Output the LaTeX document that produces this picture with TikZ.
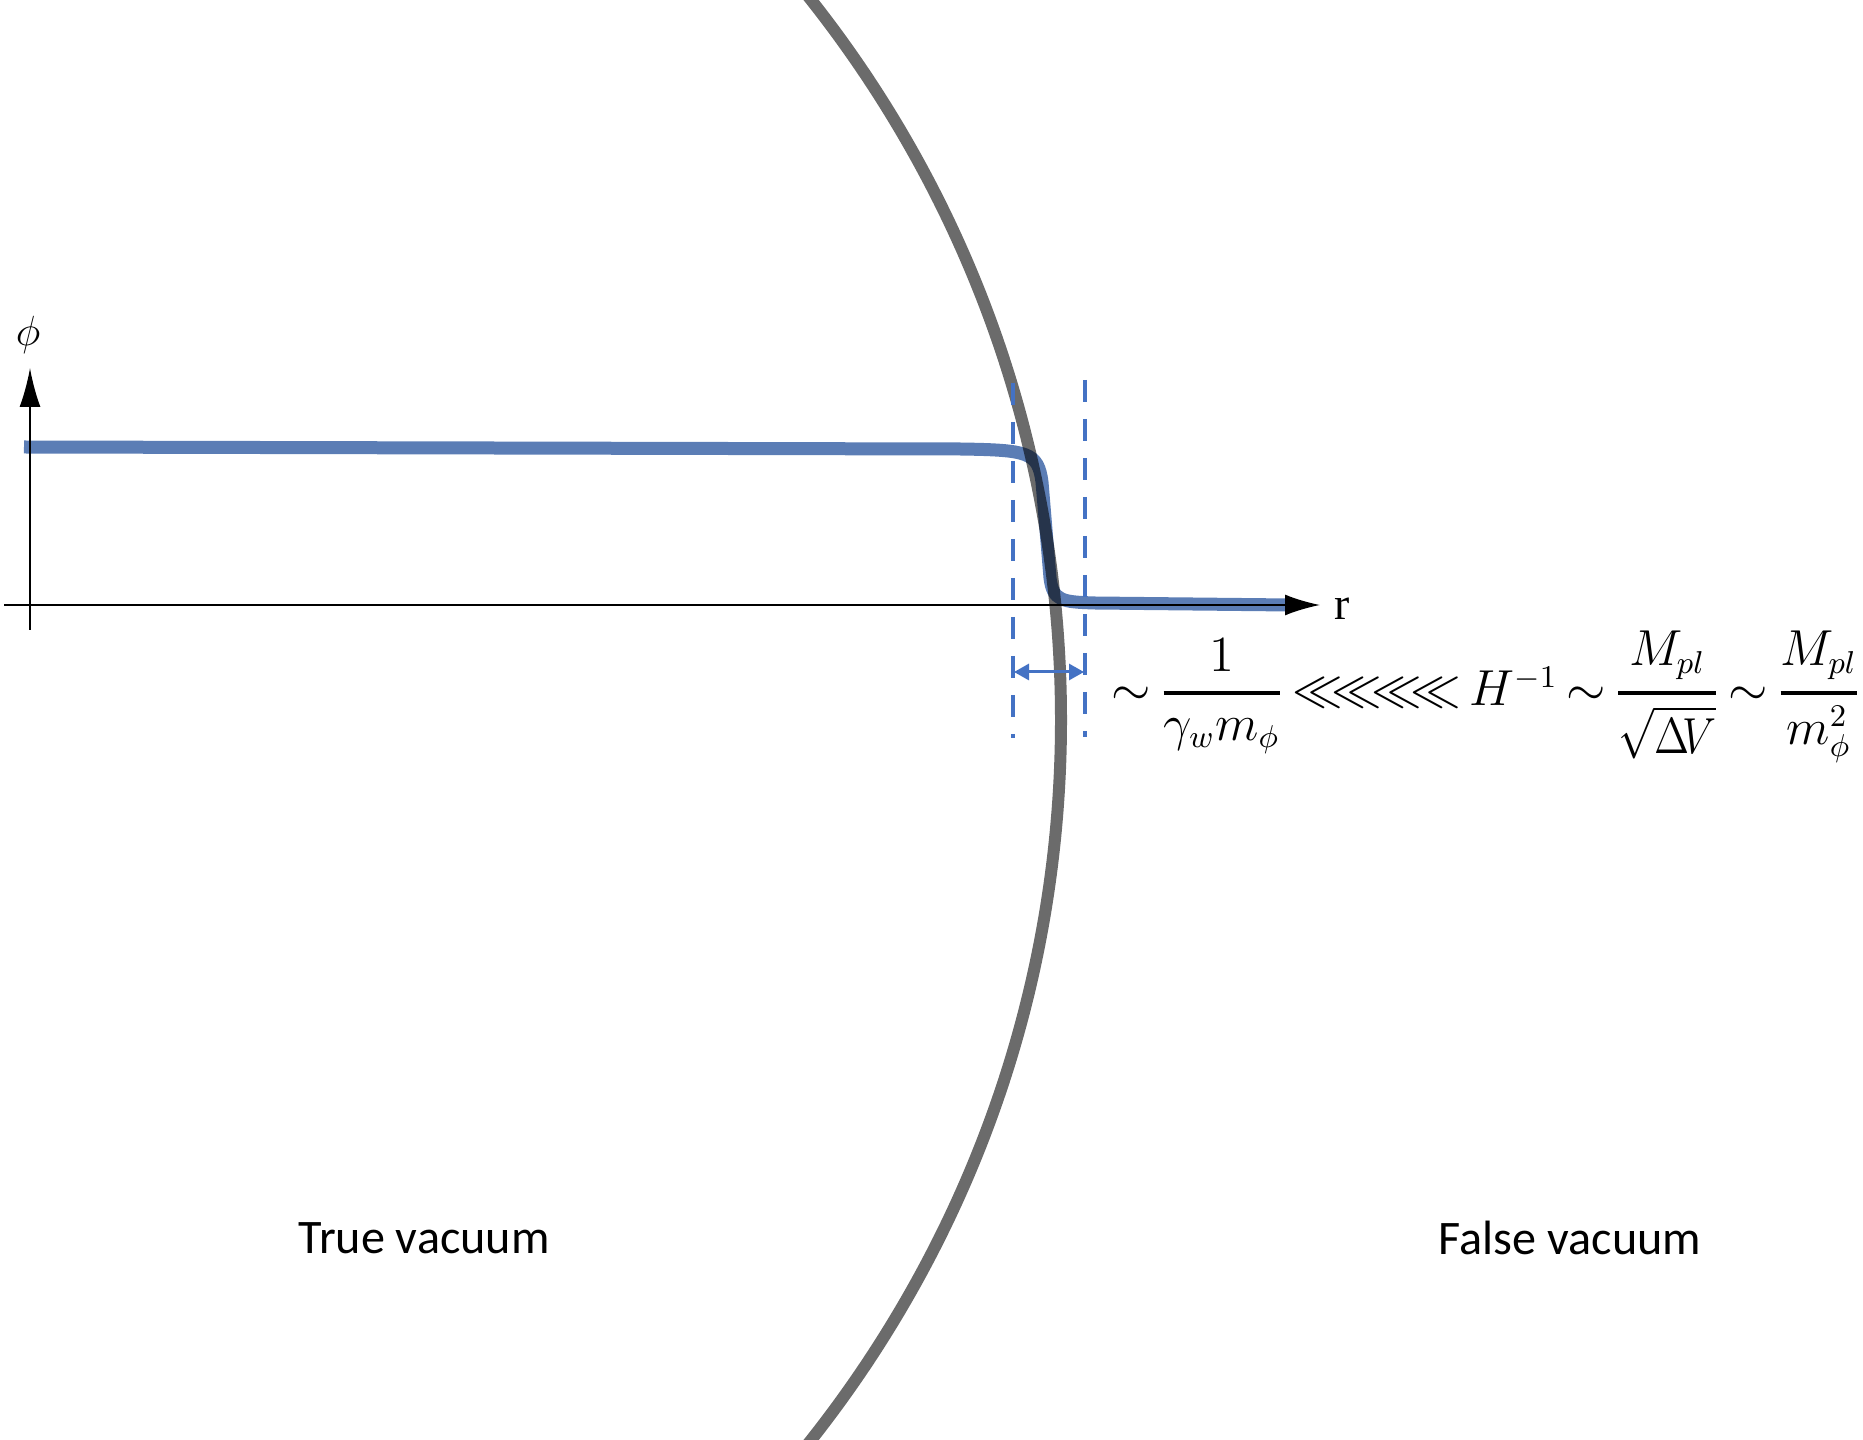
\documentclass[tikz,border=0pt]{standalone}
\usepackage{amsmath}
\usepackage{graphicx}
\usepackage{fontspec}
\setmainfont{Carlito}
\newfontfamily\labelserif{Liberation Serif}
\usetikzlibrary{arrows.meta,calc}
\definecolor{wallblue}{HTML}{4472C4}
\definecolor{profile}{HTML}{5B7DB5}
\newcommand{\barfrac}[2]{\genfrac{}{}{1.1pt}{0}{#1}{#2}}
\newcommand{\muchless}{\ll\mkern-4mu\ll\mkern-4mu\ll\mkern-4mu\ll}

\begin{document}
\begin{tikzpicture}[x=0.1mm,y=-0.1mm,>=Latex,
  axis/.style={draw=black,line width=.55pt},
  profline/.style={draw=profile,line width=1.3mm},
  wall/.style={draw=black,draw opacity=.58,line width=1.2mm},
  guide/.style={draw=wallblue,line width=.45mm,dash pattern=on 2.2mm off 1.7mm},
  spanarrow/.style={{Triangle[length=1.5mm,width=1.6mm]}-{Triangle[length=1.5mm,width=1.6mm]},draw=wallblue,line width=.3mm},
  region/.style={font=\fontsize{13.7}{16}\selectfont}]
\useasboundingbox (0,0) rectangle (1863,1440);
\coordinate (ybot) at (30,630); \coordinate (ytop) at (30,368);
\coordinate (xbeg) at (4,605); \coordinate (xend) at (1320,605);
\coordinate (dlt) at (1013,383); \coordinate (dlb) at (1013,738);
\coordinate (drt) at (1085,380); \coordinate (drb) at (1085,737);
\coordinate (wl) at (1014,672); \coordinate (wr) at (1084,672);

\draw[profline] (24,447) -- (960,449) .. controls (1028,450) and (1038,452) .. (1042,482) -- (1050,578) .. controls (1053,601) and (1062,602) .. (1095,603) -- (1290,605);
\draw[axis,-{Latex[length=3.9mm,width=2.1mm]}] (ybot) -- (ytop);
\draw[axis,-{Latex[length=3.5mm,width=2.1mm]}] (xbeg) -- (xend);
\node[font=\fontsize{13}{15}\selectfont] (phi) at (28,335) {$\phi$};
\node[font=\labelserif\fontsize{13}{15}\selectfont,anchor=west,inner sep=0pt] (rlab) at (1334,609) {r};

\begin{scope}
\clip (0,0) rectangle (1863,1440);
\draw[wall] (-101,720) circle[radius=1162];
\end{scope}

\draw[guide] (dlt) -- (dlb);
\draw[guide] (drt) -- (drb);
\draw[spanarrow] (wl) -- (wr);

\node[anchor=west,inner sep=0pt,font=\fontsize{13.4}{16}\selectfont] (scales) at (1111,697) {\thickmuskip=3mu $\sim\barfrac{1}{\gamma_w m_\phi}\muchless H^{-1}\sim\barfrac{M_{pl}}{\scalebox{0.85}[1]{$\sqrt{\Delta\!V}$}}\sim\barfrac{M_{pl}}{m_\phi^2}$};
\node[region] (truevac) at (424,1238) {True vacuum};
\node[region] (falsevac) at (1570,1238) {False vacuum};
\end{tikzpicture}
\end{document}
